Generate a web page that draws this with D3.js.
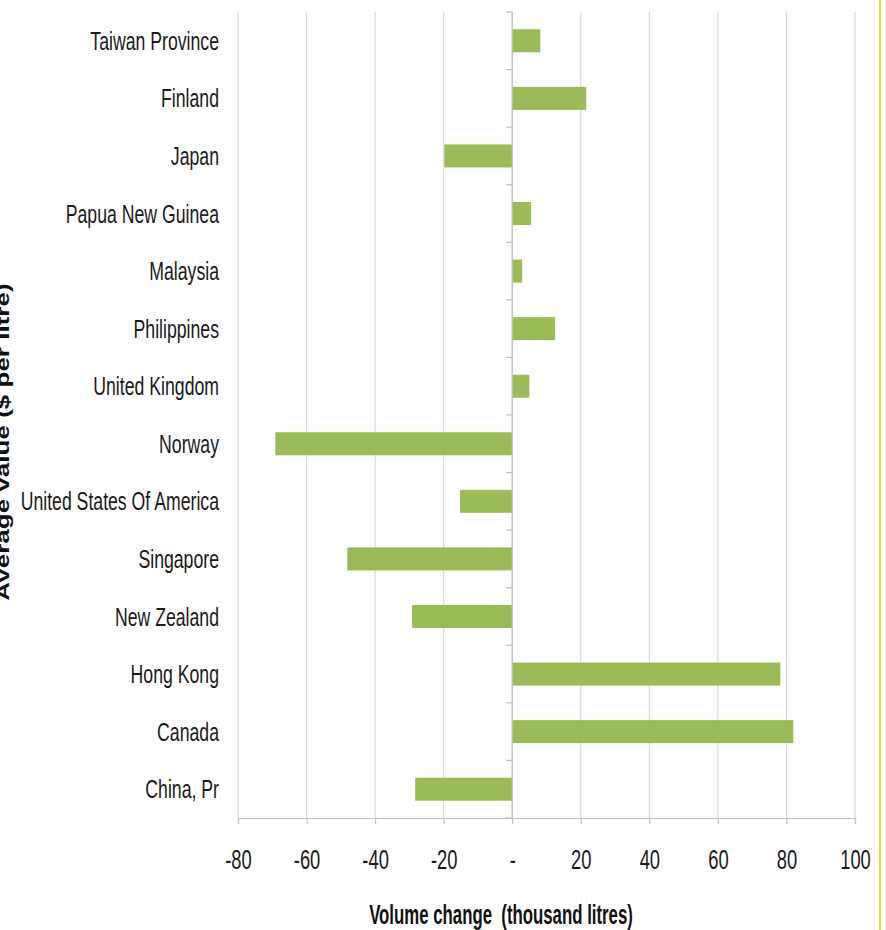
<!DOCTYPE html>
<html><head><meta charset="utf-8">
<script src="https://cdn.jsdelivr.net/npm/d3@7"></script>
<style>
body{margin:0;background:#fff;}
text{font-family:"Liberation Sans",Arial,sans-serif;}
</style></head>
<body><svg id="chart" width="886" height="930"></svg>
<script>
const categories = ["Taiwan Province","Finland","Japan","Papua New Guinea","Malaysia","Philippines","United Kingdom","Norway","United States Of America","Singapore","New Zealand","Hong Kong","Canada","China, Pr"];
const values = [8.2, 21.6, -19.8, 5.5, 2.9, 12.5, 5.0, -69.1, -15.2, -48.1, -29.2, 78.2, 82.0, -28.3];
const xTicks = [-80,-60,-40,-20,0,20,40,60,80,100];
const xTitle = "Volume change  (thousand litres)";
const yTitle = "Average value ($ per litre)";

const svg = d3.select("#chart");
const mLeft = 238, mRight = 855, mTop = 12, mBottom = 818;
const sx = 0.68; // horizontal condensation of the text face
const x = d3.scaleLinear().domain([-80,100]).range([mLeft,mRight]);
const y = d3.scaleBand().domain(categories).range([mTop,mBottom]).paddingInner(0.6).paddingOuter(0.3);

// gridlines
svg.append("g").selectAll("line").data(xTicks).join("line")
  .attr("x1",d=>x(d)).attr("x2",d=>x(d)).attr("y1",mTop).attr("y2",mBottom)
  .attr("stroke","#d9d9d9").attr("stroke-width",1.2);

// bars
svg.append("g").selectAll("rect").data(categories).join("rect")
  .attr("x",(d,i)=>x(Math.min(0,values[i])))
  .attr("width",(d,i)=>Math.abs(x(values[i])-x(0)))
  .attr("y",d=>y(d)).attr("height",y.bandwidth())
  .attr("fill","#9bbb59");

// x axis
const xAxis = d3.axisBottom(x).tickValues(xTicks).tickSize(6).tickFormat(d=>d===0?"-":d);
const gx = svg.append("g").attr("transform",`translate(0,${mBottom})`).call(xAxis);
gx.select(".domain").attr("stroke","#bfbfbf").attr("stroke-width",1.2);
gx.selectAll(".tick line").attr("stroke","#bfbfbf").attr("stroke-width",1.2);
gx.selectAll(".tick text")
  .attr("y",0).attr("dy",null)
  .attr("transform",`translate(0,51) scale(${sx},1)`)
  .attr("font-size",27).attr("fill","#1a1a1a")
  .style("font-family",'"Liberation Sans",Arial,sans-serif');

// y axis at zero
const boundaries = d3.range(categories.length+1).map(i=>mTop+i*(mBottom-mTop)/categories.length);
svg.append("line").attr("x1",x(0)).attr("x2",x(0)).attr("y1",mTop).attr("y2",mBottom)
  .attr("stroke","#bfbfbf").attr("stroke-width",1.2);
svg.append("g").selectAll("line").data(boundaries).join("line")
  .attr("x1",x(0)-6).attr("x2",x(0)).attr("y1",d=>d).attr("y2",d=>d)
  .attr("stroke","#bfbfbf").attr("stroke-width",1.2);

// category labels
svg.append("g").selectAll("text").data(categories).join("text")
  .attr("transform",d=>`translate(219,${y(d)+y.bandwidth()/2+9}) scale(${sx},1)`)
  .attr("text-anchor","end").attr("font-size",26).attr("fill","#1a1a1a").text(d=>d);

// titles
svg.append("text").attr("transform",`translate(501,924) scale(0.6,1)`).attr("text-anchor","middle")
  .style("white-space","pre")
  .attr("font-size",28).attr("font-weight","bold").attr("fill","#111").text(xTitle);
svg.append("text").attr("transform","translate(9,442) rotate(-90) scale(0.93,0.68)").attr("text-anchor","middle")
  .attr("font-size",28).attr("font-weight","bold").attr("fill","#111").text(yTitle);

// yellow border line
svg.append("line").attr("x1",880).attr("x2",880).attr("y1",0).attr("y2",930)
  .attr("stroke","#f2d341").attr("stroke-width",2);
</script></body></html>
